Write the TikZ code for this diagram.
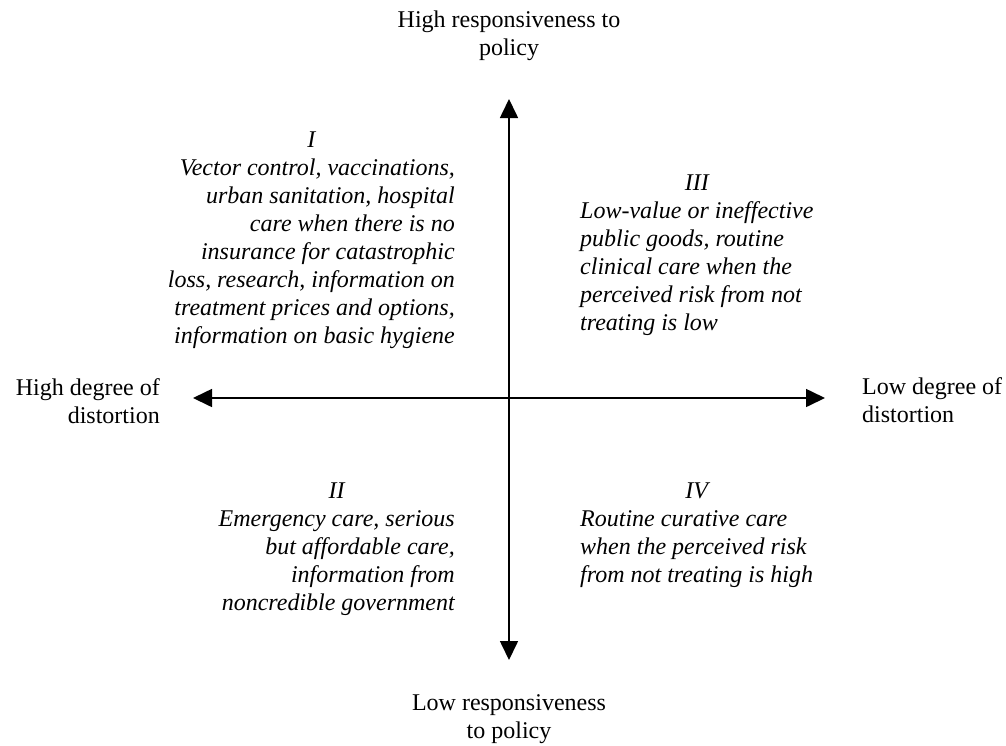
\documentclass[tikz,border=0pt]{standalone}
\usepackage{fontspec}
\setmainfont{Liberation Serif}
\usetikzlibrary{arrows.meta,positioning}

\begin{document}
\begin{tikzpicture}[
        x=1pt, y=-1pt,
        every node/.style={inner sep=0pt, font=\fontsize{24}{28}\selectfont},
        axis/.style={draw, line width=1.6pt, {Triangle[length=19pt,width=18pt]}-{Triangle[length=19pt,width=18pt]}},
        quad/.style={font=\fontsize{24}{28}\selectfont\itshape},
        pole/.style={align=center},
    ]
    \useasboundingbox (0,0) rectangle (1006,745);

    % axes
    \coordinate (top) at (509,99);
    \coordinate (bottom) at (509,660);
    \coordinate (west) at (193,398);
    \coordinate (east) at (825,398);
    \draw[axis] (west) -- (east);
    \draw[axis] (top) -- (bottom);

    % ends of the axes (base = last line)
    \node[pole, anchor=base] (hiresp) at (509,55) {High responsiveness to\\policy};
    \node[pole, anchor=base] (loresp) at (509,738) {Low responsiveness\\to policy};
    \node[align=right, anchor=base east] (hidist) at (160,423) {High degree of\\distortion};
    \node[align=left, anchor=base west] (lodist) at (862,422) {Low degree of\\distortion};

    % quadrants
    \node[quad, align=right, anchor=base east] (q1) at (455,343) {Vector control, vaccinations,\\urban sanitation, hospital\\care when there is no\\insurance for catastrophic\\loss, research, information on\\treatment prices and options,\\information on basic hygiene};
    \node[quad, anchor=base] (q1num) at (q1.base |- 0,147) {I};

    \node[quad, align=left, anchor=base west] (q3) at (580,330) {Low-value or ineffective\\public goods, routine\\clinical care when the\\perceived risk from not\\treating is low};
    \node[quad, anchor=base] (q3num) at (q3.base |- 0,190) {III};

    \node[quad, align=right, anchor=base east] (q2) at (455,610) {Emergency care, serious\\but affordable care,\\information from\\noncredible government};
    \node[quad, anchor=base] (q2num) at (q2.base |- 0,498) {II};

    \node[quad, align=left, anchor=base west] (q4) at (580,582) {Routine curative care\\when the perceived risk\\from not treating is high};
    \node[quad, anchor=base] (q4num) at (q4.base |- 0,498) {IV};
\end{tikzpicture}
\end{document}
